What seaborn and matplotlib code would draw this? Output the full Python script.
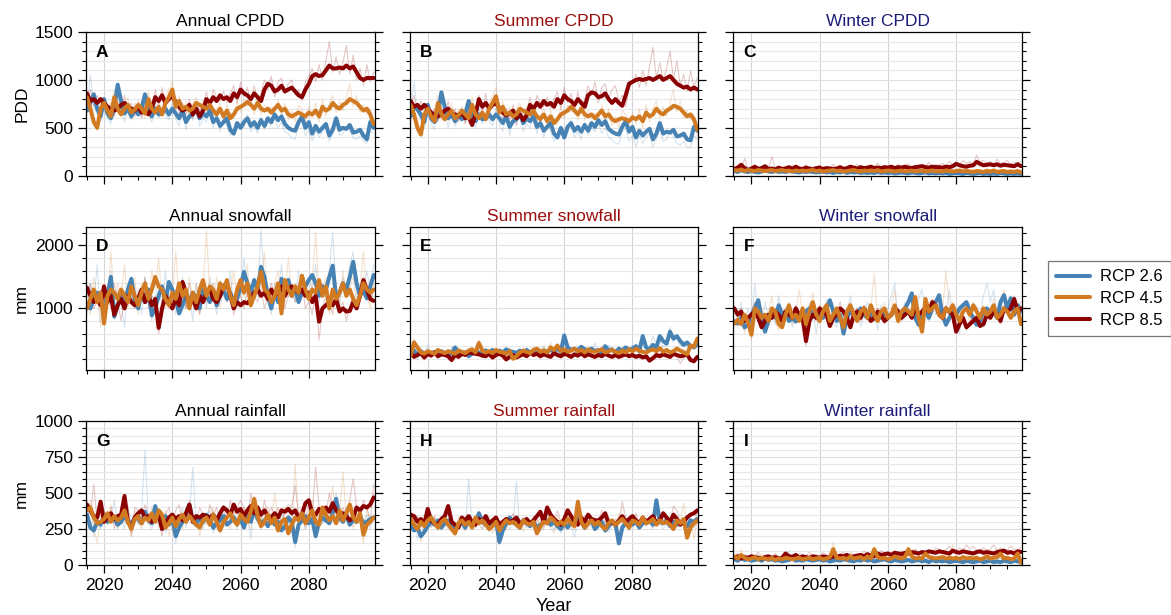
import matplotlib
matplotlib.use("Agg")
import matplotlib.pyplot as plt
from matplotlib.ticker import MultipleLocator
from matplotlib.lines import Line2D
import seaborn as sns

years = list(range(2015, 2100))
scenarios = ["RCP 2.6", "RCP 4.5", "RCP 8.5"]

# ---------------- Annual CPDD ----------------
cpdd_ann_26 = [680,760,850,700,620, 800,650,600,700,950, 780,650,700,620,700, 640,700,850,700,620, 700,640,650,700,640, 700,650,600,680,560, 620,640,700,600,650, 620,680,560,600,520, 560,600,480,440,550, 500,560,600,520,560, 500,580,520,600,560, 640,580,620,540,500, 480,470,560,620,500, 560,440,520,460,500, 540,420,480,600,480, 500,490,530,450,460, 480,420,380,560,500]
cpdd_ann_45 = [820,700,560,500,700, 760,680,620,820,700, 640,700,740,660,690, 740,700,650,800,700, 660,720,640,760,820, 900,720,780,700,720, 680,700,760,740,720, 700,740,680,640,700, 620,680,600,640,700, 720,740,770,740,700, 760,700,680,700,660, 700,740,680,700,640, 620,640,660,640,620, 660,640,680,620,720, 680,700,760,720,700, 740,760,800,780,760, 720,680,700,640,540]
cpdd_ann_85 = [860,780,800,760,800, 760,720,700,680,700, 740,760,720,700,680, 720,660,680,640,700, 820,780,840,760,800, 840,760,720,680,700, 740,640,700,620,680, 800,760,820,780,840, 800,820,780,860,820, 900,860,840,800,860, 820,780,900,960,940, 880,900,940,880,900, 920,880,840,820,900, 960,1040,1060,1040,1050, 1100,1150,1120,1120,1130, 1120,1150,1120,1140,1080, 1020,1000,1020,1020,1020]
cpdd_ann_26_m = [760,1050,720,640,560, 720,600,540,820,880, 700,560,760,580,640, 700,620,780,640,560, 780,600,700,640,580, 760,600,520,720,480, 660,580,740,520,600, 560,720,500,640,460, 600,520,420,500,480, 560,500,640,460,520, 440,620,480,560,520, 600,500,560,460,440, 400,380,520,560,420, 480,360,480,400,460, 500,360,440,540,420, 440,520,460,400,380, 420,360,340,480,440]
cpdd_ann_45_m = [880,640,600,520,760, 820,620,700,900,640, 720,640,820,600,760, 680,780,600,880,640, 720,680,700,820,900, 980,660,840,640,780, 620,760,820,680,780, 640,800,620,700,760, 580,740,660,600,780, 660,800,720,820,640, 840,640,740,660,720, 640,800,620,760,580, 680,560,740,700,560, 720,600,760,560,800, 620,760,840,660,780, 680,820,960,720,840, 660,740,640,700,480]
cpdd_ann_85_m = [800,900,720,840,740, 820,680,760,620,780, 680,840,660,760,620, 780,600,740,700,640, 900,720,920,700,860, 780,820,660,760,640, 800,600,760,680,740, 880,700,900,820,780, 880,760,860,940,760, 980,820,920,760,940, 760,860,1000,900,1040, 820,980,1020,860,960, 1000,840,900,780,980, 1040,1120,980,1160,1000, 1200,1400,1080,1240,1060, 1180,1360,1060,1260,1000, 1120,940,1160,980,1080]

# ---------------- Summer CPDD ----------------
cpdd_sum_26 = [620,720,690,640,560, 740,600,560,640,870, 720,600,640,570,640, 590,640,780,640,570, 640,590,600,640,590, 640,600,550,620,510, 570,590,640,550,600, 570,620,510,550,470, 510,550,440,400,500, 400,510,550,470,510, 460,530,470,550,510, 580,530,570,490,460, 440,430,510,570,460, 510,400,470,420,460, 490,380,440,550,440, 460,450,480,410,420, 440,380,370,510,470]
cpdd_sum_45 = [740,640,500,430,640, 700,620,570,760,640, 590,640,680,600,630, 680,640,600,740,640, 600,660,590,700,760, 830,660,720,640,660, 620,640,700,680,660, 640,680,620,590,640, 570,620,550,590,640, 660,680,720,680,640, 700,640,620,640,600, 640,680,620,640,590, 570,590,600,590,570, 610,590,620,570,660, 620,640,700,660,640, 680,700,730,720,700, 660,620,640,590,480]
cpdd_sum_85 = [780,720,740,700,740, 700,660,640,620,640, 680,700,660,640,620, 660,600,620,530,640, 800,720,760,700,740, 760,700,660,630,650, 680,600,640,580,630, 740,700,760,720,780, 740,760,720,800,760, 840,800,780,740,800, 760,720,840,870,860, 820,830,860,800,760, 800,760,730,840,960, 980,1000,1010,1000,1010, 1020,1000,1020,1040,1000, 1020,1040,1000,960,940, 920,930,900,920,900]
cpdd_sum_26_m = [700,980,660,580,500, 660,540,480,760,820, 640,500,700,520,580, 640,560,720,580,500, 720,540,640,580,520, 700,540,460,660,420, 600,520,680,460,540, 500,660,440,580,400, 540,460,360,440,420, 500,440,580,400,460, 380,560,420,500,460, 540,440,500,400,380, 340,330,460,500,360, 420,300,420,340,400, 440,300,380,480,360, 380,460,400,340,320, 360,300,290,420,380]
cpdd_sum_45_m = [800,580,540,460,700, 760,560,640,840,580, 660,580,760,540,700, 620,720,540,820,580, 660,620,640,760,840, 920,600,780,580,720, 560,700,760,620,720, 580,740,560,640,700, 520,680,600,540,720, 600,740,660,760,580, 780,580,680,600,660, 580,740,560,700,520, 620,500,680,640,500, 660,540,700,500,740, 560,700,780,600,720, 620,760,900,660,780, 600,680,580,640,420]
cpdd_sum_85_m = [740,840,660,780,680, 760,620,700,560,720, 620,780,600,700,560, 720,540,680,640,580, 840,660,860,640,800, 720,760,600,700,580, 740,540,700,620,680, 820,640,840,760,720, 820,700,800,880,700, 920,760,860,700,880, 700,800,940,840,980, 760,920,960,800,900, 940,780,840,720,920, 980,1060,920,1100,940, 1140,1340,1020,1180,1000, 1120,1300,1000,1200,940, 1060,880,1100,920,1020]

# ---------------- Winter CPDD ----------------
cpdd_win_26 = [50,40,60,45,40, 50,40,35,45,55, 45,40,50,40,45, 40,50,45,40,35, 45,40,45,40,35, 40,45,35,40,30, 40,35,45,30,40, 35,40,30,35,30, 35,30,40,30,35, 30,35,25,30,35, 30,25,35,30,25, 30,35,25,30,25, 30,25,30,20,25, 30,25,20,30,25, 20,25,30,20,25, 20,25,20,30,25, 20,25,20,25,20]
cpdd_win_45 = [60,55,65,50,60, 55,50,60,55,50, 55,60,50,55,60, 50,55,45,55,50, 55,50,55,60,50, 55,45,50,55,60, 50,55,45,50,55, 60,50,45,55,50, 55,50,60,45,50, 55,50,45,50,55, 45,50,55,45,50, 55,45,50,55,45, 50,45,55,50,45, 50,55,45,50,45, 40,50,45,40,50, 45,55,40,45,50, 40,45,40,50,35]
cpdd_win_85 = [70,85,115,80,60, 75,95,70,80,100, 70,75,65,85,70, 75,90,70,95,75, 70,85,75,65,80, 85,70,80,75,70, 75,90,70,80,95, 85,75,90,80,85, 95,80,85,80,90, 85,95,80,90,85, 95,85,80,90,95, 100,90,85,95,90, 90,85,95,90,100, 125,110,100,95,105, 110,145,125,110,115, 120,110,120,105,115, 110,105,100,120,100]
cpdd_win_26_m = [40,70,35,55,30, 60,35,45,30,70, 40,55,30,50,35, 60,30,40,55,30, 50,35,60,30,45, 35,55,25,45,30, 50,25,40,35,55, 30,45,25,40,30, 45,25,50,30,35, 25,40,30,45,25, 35,30,40,20,35, 25,40,20,35,30, 25,35,20,40,25, 30,20,35,25,30, 20,35,25,20,30, 25,20,35,20,25, 30,20,25,20,30]
cpdd_win_45_m = [70,50,90,40,75, 60,45,80,50,70, 45,85,55,60,40, 75,50,65,45,80, 55,70,45,90,50, 65,40,75,55,85, 45,60,50,80,45, 70,55,40,65,50, 80,45,60,55,70, 45,65,50,75,40, 60,70,45,55,80, 50,60,40,70,55, 45,75,50,60,40, 70,50,85,45,60, 40,65,55,45,75, 50,60,40,65,45, 55,40,60,45,50]
cpdd_win_85_m = [60,110,70,180,60, 90,70,100,60,110, 80,200,70,90,60, 100,75,110,80,90, 70,120,65,90,80, 110,70,95,80,120, 70,100,85,75,110, 90,120,80,100,85, 110,90,130,80,100, 95,110,85,120,90, 100,130,95,110,90, 120,100,140,95,120, 110,130,100,150,110, 140,120,160,130,150, 120,215,140,160,130, 150,120,170,130,140, 160,120,140,130,150]

# ---------------- Annual snowfall ----------------
snow_ann_26 = [1050,1000,1150,1250,1100, 1000,1200,1500,870,1050, 1200,1100,1300,1470,1150, 1000,1250,1100,1300,890, 1000,1200,1350,1100,1420, 1300,1150,920,1050,1200, 1100,1250,1150,1000,1300, 1200,1100,1250,1050,1200, 1300,1150,1250,1100,1160, 1350,1580,1400,1260,1450, 1300,1660,1500,1200,1000, 1250,1100,1470,1350,1450, 1200,1300,1100,1250,1350, 1450,1530,1400,1200,1350, 1300,1500,1680,1160,1250, 1400,1300,1500,1740,1400, 1200,1300,1160,1350,1530]
snow_ann_45 = [1000,1150,1300,1100,1250, 760,1200,1300,1250,1150, 1300,1200,1100,1350,1200, 1050,1250,1400,1150,1300, 1500,1350,1300,1150,1050, 1250,1150,1400,1200,1300, 1000,1250,1100,1300,1450, 1200,1350,1300,1150,1400, 1300,1450,1200,1050,1300, 1450,1250,1400,1050,1200, 1350,1580,1300,1250,1100, 1200,1400,920,1450,1300, 1200,1350,1250,1520,1300, 1150,1300,1250,1450,1200, 1350,1000,1300,1150,1250, 1400,1200,1300,1150,1050, 1200,1400,1300,1250,1300]
snow_ann_85 = [1330,1200,1100,1150,1050, 1350,1100,1200,900,1050, 1150,1000,1200,1100,1050, 1150,1300,1100,1200,1050, 1150,690,1000,1200,1100, 1000,1150,1050,1420,1250, 1050,1150,1000,1200,1100, 1250,1300,1150,1100,1200, 1350,1400,1200,1000,1100, 1050,1100,1080,1150,1250, 1300,1200,1250,1150,1300, 1200,1250,1350,1200,1300, 1350,1300,1250,1300,1200, 1250,1100,1200,790,1000, 1050,1100,1050,1150,950, 1000,950,960,1100,1000, 1200,1450,1300,1150,1120]
snow_ann_26_m = [900,1400,1100,1700,800, 1200,1000,1600,900,1300, 1100,700,1400,1200,1000, 1300,900,1500,1100,800, 1200,1400,1000,1600,1100, 1300,900,1200,1500,1000, 1200,800,1400,1100,1300, 1000,1500,1200,900,1300, 1400,1100,1600,1000,1300, 1200,1800,1300,1100,1500, 1200,2250,1400,1300,900, 1400,1200,1700,1100,1500, 1300,1100,1600,1200,1400, 1500,1300,1700,1100,1400, 1200,1600,2200,1300,1100, 1500,1300,1700,1900,1200, 1400,1200,1600,1300,1700]
snow_ann_45_m = [1100,900,1500,1200,700, 1300,1000,1900,1100,1400, 1200,1700,1000,1300,1500, 900,1400,1200,1100,1600, 1300,1800,1100,1000,1400, 1200,1900,1100,1300,1000, 1500,1100,1400,900,1300, 2250,1200,1100,1500,1000, 1300,1400,1200,1600,1100, 1400,1200,1700,1000,1300, 1500,1300,1900,1200,1000, 1400,1600,1100,1300,1800, 1200,1400,1100,1500,1300, 1100,1400,2200,1200,1300, 1500,900,1300,1400,1000, 1600,1200,1300,1500,1100, 1300,1900,1200,1000,1400]
snow_ann_85_m = [1200,1400,1000,1100,1300, 900,1200,1000,1400,1100, 800,1200,1100,1300,1000, 1200,1100,1500,1000,1200, 1100,600,900,1300,1000, 1100,1300,900,1200,1000, 1400,1100,1200,900,1300, 1100,1200,1400,1000,1200, 1300,1100,1200,900,1100, 1200,1000,1300,1100,1200, 1100,1300,1000,1200,1400, 1200,1100,1300,1000,1200, 1300,1100,1200,1400,1000, 1100,900,1300,500,1000, 1200,1100,900,1300,1000, 1100,800,1000,1200,1100, 1300,1500,1200,1100,1300]

# ---------------- Summer snowfall ----------------
snow_sum_26 = [280,330,260,320,280, 300,260,310,270,320, 290,260,280,380,300, 270,300,240,280,320, 300,280,330,300,340, 290,330,300,350,320, 310,290,330,300,340, 290,320,350,300,330, 310,340,320,360,310, 570,380,340,360,330, 390,350,330,360,320, 340,300,400,330,350, 300,360,330,380,340, 360,400,320,560,380, 350,420,380,560,480, 440,630,520,560,480, 420,460,400,380,430]
snow_sum_45 = [250,460,380,300,280, 320,300,280,340,310, 290,320,300,280,330, 310,290,330,350,300, 450,330,300,320,290, 340,310,300,280,320, 200,240,300,330,310, 290,340,360,310,330, 300,380,340,410,320, 350,310,330,360,320, 340,300,350,320,310, 330,350,300,320,340, 310,290,330,300,350, 320,360,330,310,300, 330,350,320,370,310, 340,300,320,360,330, 300,270,410,390,520]
snow_sum_85 = [300,230,260,290,220, 280,250,300,240,270, 260,240,180,260,230, 280,260,300,290,280, 270,250,240,280,220, 260,280,250,190,230, 260,220,250,270,240, 300,260,280,240,270, 250,230,290,260,240, 280,260,230,270,250, 290,240,270,250,230, 260,240,280,250,230, 260,230,250,270,240, 260,230,250,220,240, 170,210,260,240,270, 250,230,280,260,240, 250,270,180,160,230]
snow_sum_26_m = [250,380,180,330,260, 420,240,310,200,350, 280,220,400,270,330, 240,300,200,350,260, 320,280,380,250,300, 340,260,310,280,360, 290,330,250,370,280, 310,260,340,300,390, 270,350,310,280,330, 480,300,360,280,400, 340,290,370,310,450, 280,360,300,420,330, 290,400,340,310,380, 420,330,460,500,350, 390,560,420,480,380, 510,700,460,540,400, 480,380,440,360,420]
snow_sum_45_m = [200,520,300,380,230, 360,260,330,280,300, 240,350,310,260,380, 280,330,250,300,350, 500,260,340,290,320, 360,280,310,240,370, 220,290,350,300,260, 330,380,290,350,410, 300,460,330,370,290, 320,360,280,340,300, 380,290,330,260,360, 300,400,280,350,310, 280,340,300,380,260, 350,300,410,290,330, 360,310,390,280,340, 310,280,340,400,300, 350,300,430,360,480]
snow_sum_85_m = [340,200,300,250,180, 320,230,280,210,300, 290,210,150,290,250, 240,300,220,330,250, 300,210,280,240,190, 290,250,220,160,260, 230,280,210,300,260, 270,230,310,200,290, 230,260,250,290,210, 250,300,200,280,230, 260,210,300,230,200, 280,220,300,260,210, 240,200,280,240,260, 230,270,210,250,200, 190,240,220,280,230, 270,200,250,230,120, 220,290,200,180,250]

# ---------------- Winter snowfall ----------------
snow_win_26 = [800,760,850,700,740, 900,1000,1130,850,630, 800,900,850,1050,900, 950,800,850,790,900, 850,950,1000,900,850, 950,850,1000,1130,950, 800,900,600,850,950, 900,850,1000,900,850, 950,840,900,850,950, 850,900,1000,950,880, 1000,1100,1240,850,740, 900,950,850,1000,1100, 1210,900,740,850,950, 900,1000,1050,1100,950, 850,740,800,950,1000, 900,950,850,1100,1210, 1000,1160,900,1050,950]
snow_win_45 = [760,820,750,900,780, 580,1000,950,850,900, 800,1000,950,750,700, 900,1050,850,900,800, 1000,750,950,1100,900, 800,950,1050,800,900, 1000,850,700,950,1050, 900,800,950,1000,850, 1050,900,800,950,1000, 850,900,1050,800,950, 1000,950,900,1180,850, 630,1150,950,1000,1050, 900,850,1000,950,1050, 900,800,950,1000,900, 1050,950,850,1000,900, 950,1050,850,900,1000, 950,850,950,1000,750]
snow_win_85 = [1000,900,950,800,850, 900,950,850,700,800, 900,850,950,900,800, 950,900,850,1000,900, 850,480,800,900,850, 1000,950,900,720,850, 900,1000,950,850,700, 900,950,850,1000,900, 800,850,950,900,800, 850,900,1000,950,850, 900,950,850,1000,900, 950,1000,950,1100,1050, 900,850,1000,950,900, 630,750,850,700,750, 800,850,720,750,900, 850,950,900,800,1000, 950,1000,1150,950,1000]
snow_win_26_m = [700,900,1100,650,1000, 800,1400,900,700,1100, 850,1000,750,1200,900, 800,1050,700,1000,850, 900,750,1100,950,600, 1000,850,1150,900,800, 700,1000,850,950,1200, 800,1000,700,900,1100, 850,950,650,1050,900, 1000,1200,1400,800,950, 1100,900,1000,850,1150, 1300,950,800,1000,900, 1100,1000,950,1300,850, 900,600,1000,1100,850, 950,1050,900,1200,1400, 1100,1300,850,1000,1200, 1000,900,1100,950,1050]
snow_win_45_m = [800,700,1000,600,900, 500,1100,800,1000,750, 950,1200,800,650,1000, 850,1100,750,950,1300, 900,700,1000,1250,850, 750,1050,900,1150,800, 1000,900,650,1000,1100, 850,1000,900,1050,800, 1000,1550,850,950,1100, 800,1000,1300,750,900, 1050,900,1000,1200,800, 700,1100,1000,900,1150, 850,950,1600,1000,1100, 850,900,1050,950,800, 1100,1000,900,1050,850, 1000,1150,900,1050,1300, 1000,1200,900,1100,800]
snow_win_85_m = [1050,850,1000,900,750, 950,1100,800,700,900, 850,950,1000,850,750, 1000,900,800,1050,950, 800,400,850,950,800, 1050,900,1000,750,900, 950,1100,900,800,750, 950,1000,800,1050,950, 850,800,1000,950,750, 900,950,1050,1000,800, 950,1000,900,1100,850, 1000,1050,900,1150,1100, 950,800,1050,900,950, 700,800,900,650,800, 850,900,750,800,950, 900,1000,850,750,1050, 1000,1050,1200,1000,1100]

# ---------------- Annual rainfall ----------------
rain_ann_26 = [350,260,240,300,280, 330,300,350,320,280, 300,340,310,280,330, 320,290,370,310,290, 410,320,300,340,280, 320,200,260,300,350, 420,310,280,330,300, 350,320,260,290,310, 340,280,300,330,290, 320,260,350,300,380, 320,290,310,270,330, 280,300,240,270,330, 300,160,280,310,340, 290,320,200,300,330, 310,290,360,460,330, 300,350,280,310,300, 340,290,300,320,330]
rain_ann_45 = [380,400,330,290,300, 320,360,300,340,310, 330,380,300,250,320, 340,290,330,310,360, 300,380,350,260,290, 330,270,320,350,300, 340,310,280,260,310, 330,280,350,300,240, 300,330,360,310,280, 350,320,300,370,460, 340,270,300,350,290, 330,240,300,320,220, 280,330,310,360,290, 330,380,300,280,400, 350,310,340,290,380, 310,360,420,330,300, 360,210,280,300,330]
rain_ann_85 = [420,380,340,330,440, 300,330,360,320,340, 350,480,300,260,330, 360,380,330,340,300, 320,350,250,290,330, 350,320,340,310,360, 420,300,340,330,350, 340,330,350,310,360, 400,380,350,420,370, 390,340,380,410,360, 400,350,380,340,330, 360,330,380,370,390, 360,380,330,350,430, 450,360,350,390,360, 400,370,430,380,350, 360,340,310,330,400, 380,410,400,420,470]
rain_ann_26_m = [300,420,200,350,250, 380,280,320,450,260, 330,250,400,300,350, 280,360,800,300,250, 340,280,380,220,310, 350,150,300,400,260, 350,680,280,320,250, 330,380,220,300,350, 260,400,300,320,250, 380,300,350,180,420, 300,250,340,280,360, 320,240,380,300,260, 350,120,300,380,250, 320,400,300,350,280, 360,300,420,500,350, 300,400,280,330,300, 380,300,350,250,340]
rain_ann_45_m = [300,450,250,150,350, 380,280,420,300,250, 350,300,420,200,380, 300,250,350,280,400, 320,260,300,380,200, 280,350,300,250,400, 330,280,350,200,300, 280,320,400,250,300, 350,300,250,380,320, 280,400,300,250,450, 300,350,280,400,320, 500,300,250,400,350, 280,700,300,350,250, 400,450,300,350,380, 300,400,550,300,350, 650,300,400,250,350, 300,150,400,300,350]
rain_ann_85_m = [450,350,560,300,400, 350,300,400,250,350, 300,450,350,200,400, 380,300,420,350,300, 380,300,200,350,400, 300,380,420,300,350, 450,350,300,400,350, 300,420,350,400,300, 380,320,450,350,400, 450,400,300,500,350, 400,300,450,350,400, 350,400,300,380,420, 400,550,350,400,300, 450,350,680,400,300, 350,500,400,450,300, 400,350,450,600,400, 350,450,400,300,560]

# ---------------- Summer rainfall ----------------
rain_sum_26 = [280,240,260,200,230, 270,300,280,310,260, 290,310,270,240,280, 300,260,310,280,290, 360,300,280,270,300, 310,160,240,290,330, 300,280,260,310,290, 270,300,260,280,300, 310,280,300,270,250, 290,260,300,280,330, 300,260,290,310,250, 280,300,240,270,300, 290,150,260,290,310, 280,300,260,290,300, 310,280,450,300,290, 310,270,300,280,300, 290,270,310,300,320]
rain_sum_45 = [320,280,250,300,270, 310,330,290,260,300, 320,280,250,220,290, 310,280,300,260,330, 290,310,280,250,270, 300,240,280,310,290, 300,280,260,310,290, 280,300,220,270,300, 290,330,310,280,300, 280,320,290,270,440, 300,260,290,310,280, 300,270,250,290,310, 280,300,320,290,260, 310,300,280,330,290, 300,320,280,310,290, 300,280,250,310,290, 320,190,260,290,310]
rain_sum_85 = [350,340,300,320,280, 390,310,290,280,320, 340,410,300,280,260, 330,310,340,300,280, 320,300,340,290,310, 330,280,300,320,300, 310,330,290,300,320, 290,310,340,370,300, 400,350,320,300,280, 320,380,340,300,280, 330,300,350,320,310, 310,330,360,290,300, 280,310,340,300,320, 340,310,290,330,300, 320,340,290,310,360, 330,300,350,320,280, 300,330,350,360,380]
rain_sum_26_m = [260,320,180,280,240, 300,260,330,240,280, 310,250,280,220,300, 270,240,600,260,310, 290,250,320,230,280, 300,140,260,320,250, 280,580,240,290,260, 300,250,280,230,300, 270,310,240,280,220, 300,250,270,190,320, 280,240,300,260,280, 250,310,270,230,290, 260,150,280,300,240, 280,310,250,290,270, 300,260,380,290,250, 280,300,260,290,270, 300,250,280,260,290]
rain_sum_45_m = [250,350,280,160,300, 330,260,350,280,240, 300,270,340,200,310, 280,240,320,260,330, 280,250,300,340,220, 270,310,260,240,320, 300,260,280,230,300, 260,290,330,240,280, 310,260,220,340,280, 250,350,280,240,400, 280,320,250,300,270, 300,260,230,320,280, 250,360,280,300,240, 310,290,250,330,280, 300,250,370,280,320, 340,280,300,260,310, 430,260,300,180,320]
rain_sum_85_m = [380,300,340,270,350, 300,280,330,250,310, 290,380,300,220,330, 310,270,340,290,260, 320,280,350,310,270, 340,290,260,320,300, 360,300,280,330,290, 270,340,300,320,250, 350,310,280,380,300, 330,270,360,300,320, 290,340,280,310,330, 300,380,290,330,270, 320,290,440,330,300, 310,360,290,320,280, 300,350,280,330,310, 330,300,410,380,300, 280,340,310,300,360]

# ---------------- Winter rainfall ----------------
rain_win_26 = [40,30,50,35,40, 30,35,40,30,45, 35,40,30,35,25, 30,35,45,30,35, 30,40,35,30,35, 40,30,35,25,30, 35,30,40,35,30, 25,35,30,40,30, 35,25,30,35,40, 30,25,35,30,25, 30,35,25,30,35, 25,30,20,35,25, 30,25,30,20,25, 30,25,20,30,25, 20,25,30,20,25, 30,20,25,20,30, 25,20,30,25,20]
rain_win_45 = [60,45,70,50,40, 45,55,40,50,45, 40,50,35,45,40, 50,45,40,45,50, 40,45,50,40,45, 50,40,45,55,110, 50,45,50,40,60, 45,50,55,40,60, 45,110,55,45,50, 40,45,60,50,45, 55,110,60,45,50, 45,80,55,50,45, 50,55,45,50,45, 50,40,55,45,50, 45,50,40,45,60, 45,50,55,80,45, 50,40,45,80,15]
rain_win_85 = [50,60,45,55,50, 60,55,50,45,55, 60,50,55,45,50, 80,60,55,70,50, 60,55,50,60,55, 50,60,55,50,60, 55,65,60,70,55, 60,65,70,60,75, 65,60,80,70,75, 80,70,85,80,75, 85,80,90,85,80, 90,85,95,90,85, 95,90,85,80,100, 90,85,95,90,85, 80,90,95,85,90, 85,80,90,95,100, 85,90,80,95,90]
rain_win_26_m = [50,25,40,60,30, 45,35,70,25,40, 30,50,35,45,25, 35,100,30,40,25, 45,35,30,50,40, 25,35,45,30,40, 35,25,40,30,45, 30,40,25,35,30, 40,30,45,25,35, 30,40,25,80,30, 35,25,40,30,25, 35,30,25,40,30, 25,35,30,20,40, 25,30,20,35,25, 30,20,25,35,20, 25,30,20,25,30, 20,25,35,20,25]
rain_win_45_m = [70,40,110,50,60, 40,70,45,80,50, 60,40,75,45,55, 50,40,70,60,45, 55,65,40,75,50, 45,60,50,70,160, 50,65,45,55,40, 60,45,70,55,50, 65,45,80,60,55, 50,65,45,90,60, 55,70,45,110,60, 50,65,55,70,45, 60,50,75,65,140, 55,60,45,70,55, 50,65,45,60,110, 55,50,70,45,60, 45,55,40,65,50]
rain_win_85_m = [60,80,50,70,55, 75,60,90,50,65, 70,55,80,60,50, 90,65,75,55,80, 70,60,90,65,75, 60,85,70,55,80, 65,75,90,60,85, 70,80,65,95,75, 80,95,75,100,85, 85,70,90,80,100, 75,95,85,110,90, 80,100,95,85,120, 110,95,105,130,100, 90,120,100,140,110, 130,105,95,120,100, 110,140,100,120,95, 105,130,110,100,120]

# ---------------- figure ----------------
sns.set_theme(style="white")
plt.rcParams['font.family'] = ['Liberation Sans', 'DejaVu Sans']
plt.rcParams.update({
    'axes.edgecolor': 'black', 'axes.linewidth': 0.9,
    'text.color': 'black', 'axes.labelcolor': 'black',
    'xtick.color': 'black', 'ytick.color': 'black',
})

colors = {"RCP 2.6": "#4682b4", "RCP 4.5": "#d17a22", "RCP 8.5": "#8b0000"}
title_colors = {"Annual": "black", "Summer": "#9b0d0d", "Winter": "#1c1c78"}

panels = [
    ("A", "Annual CPDD", [cpdd_ann_26, cpdd_ann_45, cpdd_ann_85], [cpdd_ann_26_m, cpdd_ann_45_m, cpdd_ann_85_m]),
    ("B", "Summer CPDD", [cpdd_sum_26, cpdd_sum_45, cpdd_sum_85], [cpdd_sum_26_m, cpdd_sum_45_m, cpdd_sum_85_m]),
    ("C", "Winter CPDD", [cpdd_win_26, cpdd_win_45, cpdd_win_85], [cpdd_win_26_m, cpdd_win_45_m, cpdd_win_85_m]),
    ("D", "Annual snowfall", [snow_ann_26, snow_ann_45, snow_ann_85], [snow_ann_26_m, snow_ann_45_m, snow_ann_85_m]),
    ("E", "Summer snowfall", [snow_sum_26, snow_sum_45, snow_sum_85], [snow_sum_26_m, snow_sum_45_m, snow_sum_85_m]),
    ("F", "Winter snowfall", [snow_win_26, snow_win_45, snow_win_85], [snow_win_26_m, snow_win_45_m, snow_win_85_m]),
    ("G", "Annual rainfall", [rain_ann_26, rain_ann_45, rain_ann_85], [rain_ann_26_m, rain_ann_45_m, rain_ann_85_m]),
    ("H", "Summer rainfall", [rain_sum_26, rain_sum_45, rain_sum_85], [rain_sum_26_m, rain_sum_45_m, rain_sum_85_m]),
    ("I", "Winter rainfall", [rain_win_26, rain_win_45, rain_win_85], [rain_win_26_m, rain_win_45_m, rain_win_85_m]),
]
row_cfg = [
    dict(ylim=(0, 1500), major=500, minor=100, ylabel="PDD"),
    dict(ylim=(15, 2300), major=1000, minor=200, ylabel="mm"),
    dict(ylim=(0, 1000), major=250, minor=50, ylabel="mm"),
]
draw_order = [0, 2, 1]

fig, axes = plt.subplots(3, 3, figsize=(11.71, 6.15), dpi=100, sharex=True)
fig.subplots_adjust(left=0.0734, right=0.8728, top=0.948, bottom=0.0813,
                    wspace=0.121, hspace=0.353)

for i, (letter, title, means, members) in enumerate(panels):
    r, c = divmod(i, 3)
    ax = axes[r, c]
    cfg = row_cfg[r]
    for k in draw_order:
        sns.lineplot(x=years, y=members[k], ax=ax, color=colors[scenarios[k]],
                     lw=0.8, alpha=0.22, legend=False)
    for k in draw_order:
        sns.lineplot(x=years, y=means[k], ax=ax, color=colors[scenarios[k]],
                     lw=2.9, legend=False)
    ax.set_xlim(2014.7, 2099.3)
    ax.set_ylim(*cfg["ylim"])
    ax.xaxis.set_major_locator(MultipleLocator(20))
    ax.xaxis.set_minor_locator(MultipleLocator(5))
    ax.yaxis.set_major_locator(MultipleLocator(cfg["major"]))
    ax.yaxis.set_minor_locator(MultipleLocator(cfg["minor"]))
    ax.set_axisbelow(True)
    ax.xaxis.grid(True, which="major", color="#d4d4d8", lw=0.8)
    ax.yaxis.grid(True, which="major", color="#e0e0e0", lw=0.8)
    ax.yaxis.grid(True, which="minor", color="#e8e8e8", lw=0.8)
    ax.tick_params(which="both", direction="out", left=True, right=True, bottom=True,
                   top=False, colors="black", labelsize=12.5)
    ax.tick_params(which="major", length=5.5, width=0.9)
    ax.tick_params(which="minor", length=3, width=0.8)
    for sp in ax.spines.values():
        sp.set_visible(True)
        sp.set_color("black")
        sp.set_linewidth(0.9)
    season = title.split()[0]
    ax.set_title(title, color=title_colors[season], fontsize=12.5, pad=4)
    ax.text(0.035, 0.86, letter, transform=ax.transAxes, fontsize=12.5,
            fontweight="bold", ha="left", va="center", color="black")
    ax.set_xlabel("")
    if c == 0:
        ax.set_ylabel(cfg["ylabel"], fontsize=12.5)
    else:
        ax.set_ylabel("")
        ax.tick_params(labelleft=False)

axes[2, 1].set_xlabel("Year", fontsize=13)

handles = [Line2D([0], [0], color=colors[s], lw=2.9) for s in scenarios]
leg = fig.legend(handles, scenarios, loc="center left",
                 bbox_to_anchor=(1048 / 1171, 0.5146), borderaxespad=0,
                 frameon=True, fancybox=False,
                 edgecolor="#555555", fontsize=12, handlelength=2.0,
                 borderpad=0.5, labelspacing=0.4, handletextpad=0.6)
leg.get_frame().set_linewidth(0.9)

fig.savefig("out.png", dpi=100)
